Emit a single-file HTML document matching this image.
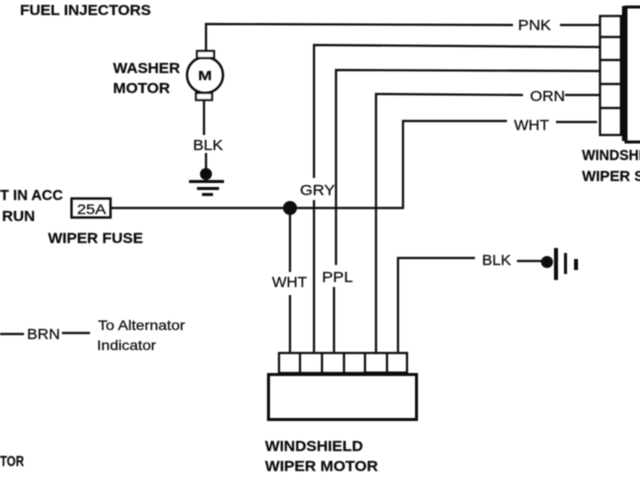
<!DOCTYPE html>
<html>
<head>
<meta charset="utf-8">
<style>
html,body{margin:0;padding:0;background:#fff}
svg{display:block}
text{font-family:"Liberation Sans",sans-serif;fill:#111;font-size:15px;stroke:#111;stroke-width:.25}
.b{font-weight:bold;stroke-width:.2}
</style>
</head>
<body>
<svg width="640" height="480" viewBox="0 0 640 480" xmlns="http://www.w3.org/2000/svg">
<defs><filter id="s" x="-2%" y="-2%" width="104%" height="104%"><feGaussianBlur stdDeviation="0.45"/></filter></defs>
<g filter="url(#s)">
<g fill="none" stroke="#111" stroke-width="2.200">
<path d="M206 51V24L513 25M560 25H599"/>
<path d="M314 178V45L599 47M314 200V352"/>
<path d="M336 265V70L599 71M334 287V352"/>
<path d="M376 352V94L523 95M565 95H599"/>
<path d="M507 121H403V208H111M556 122H597"/>
<path d="M290 208V272M290 295V352"/>
<path d="M398 352V258H475M517 261H545"/>
<circle cx="205" cy="75" r="18" stroke-width="2.400"/>
<rect x="197" y="51" width="17" height="7" fill="#fff"/>
<rect x="196" y="93" width="16" height="7" fill="#fff"/>
<path d="M204 100V135M206 153V172"/>
<rect x="71.500" y="198.500" width="39" height="19" stroke-width="2.400"/>
<path d="M0 334H24M62 333H90"/>
<rect x="600" y="16" width="21" height="119"/>
<path d="M600 37H621M600 60H621M600 84H621M600 108H621"/>
<rect x="626" y="7" width="20" height="135" stroke-width="3"/>
<rect x="279" y="353" width="128" height="20"/>
<path d="M300 353V373M322 353V373M344 353V373M365 353V373M387 353V373"/>
<rect x="268.500" y="374.500" width="148" height="45" stroke-width="3"/>
<path d="M365 373H407" stroke-width="3"/>
</g>
<rect x="622" y="6" width="5" height="135" fill="#111"/>
<circle cx="290" cy="208" r="7" fill="#111"/>
<circle cx="206" cy="174" r="6" fill="#111"/>
<rect x="189" y="180" width="35" height="3" fill="#111"/>
<rect x="197" y="187" width="22" height="3" fill="#111"/>
<rect x="202" y="193" width="11" height="3" fill="#111"/>
<circle cx="547" cy="262" r="6" fill="#111"/>
<rect x="554" y="248" width="4" height="32" fill="#111"/>
<rect x="564" y="253" width="3" height="21" fill="#111"/>
<rect x="574" y="259" width="4" height="11" fill="#111"/>
<text class="b" x="20" y="15" textLength="131" lengthAdjust="spacingAndGlyphs">FUEL INJECTORS</text>
<text class="b" x="113" y="73" textLength="67" lengthAdjust="spacingAndGlyphs">WASHER</text>
<text class="b" x="113" y="93" textLength="57" lengthAdjust="spacingAndGlyphs">MOTOR</text>
<text class="b" x="198" y="80" style="font-size:13px" textLength="14" lengthAdjust="spacingAndGlyphs">M</text>
<text x="193" y="150" textLength="30" lengthAdjust="spacingAndGlyphs">BLK</text>
<text class="b" x="0" y="200" textLength="63" lengthAdjust="spacingAndGlyphs">T IN ACC</text>
<text class="b" x="2" y="221" textLength="33" lengthAdjust="spacingAndGlyphs">RUN</text>
<text x="77" y="214" style="font-size:14px" textLength="29" lengthAdjust="spacingAndGlyphs">25A</text>
<text class="b" x="48" y="243" textLength="95" lengthAdjust="spacingAndGlyphs">WIPER FUSE</text>
<text x="300" y="195" textLength="35" lengthAdjust="spacingAndGlyphs">GRY</text>
<text x="518" y="30" textLength="33" lengthAdjust="spacingAndGlyphs">PNK</text>
<text x="530" y="101" textLength="35" lengthAdjust="spacingAndGlyphs">ORN</text>
<text x="514" y="130" textLength="35" lengthAdjust="spacingAndGlyphs">WHT</text>
<text class="b" x="582" y="160" textLength="70" lengthAdjust="spacingAndGlyphs">WINDSHIE</text>
<text class="b" x="582" y="181" textLength="62" lengthAdjust="spacingAndGlyphs">WIPER S</text>
<text x="272" y="287" textLength="35" lengthAdjust="spacingAndGlyphs">WHT</text>
<text x="322" y="282" textLength="31" lengthAdjust="spacingAndGlyphs">PPL</text>
<text x="482" y="265" textLength="29" lengthAdjust="spacingAndGlyphs">BLK</text>
<text x="27" y="339" textLength="33" lengthAdjust="spacingAndGlyphs">BRN</text>
<text x="98" y="330" style="font-size:14px" textLength="87" lengthAdjust="spacingAndGlyphs">To Alternator</text>
<text x="97" y="350" style="font-size:14px" textLength="59" lengthAdjust="spacingAndGlyphs">Indicator</text>
<text class="b" x="0" y="466" textLength="24" lengthAdjust="spacingAndGlyphs">TOR</text>
<text class="b" x="265" y="451" textLength="98" lengthAdjust="spacingAndGlyphs">WINDSHIELD</text>
<text class="b" x="265" y="471" textLength="113" lengthAdjust="spacingAndGlyphs">WIPER MOTOR</text>
</g>
</svg>
</body>
</html>
